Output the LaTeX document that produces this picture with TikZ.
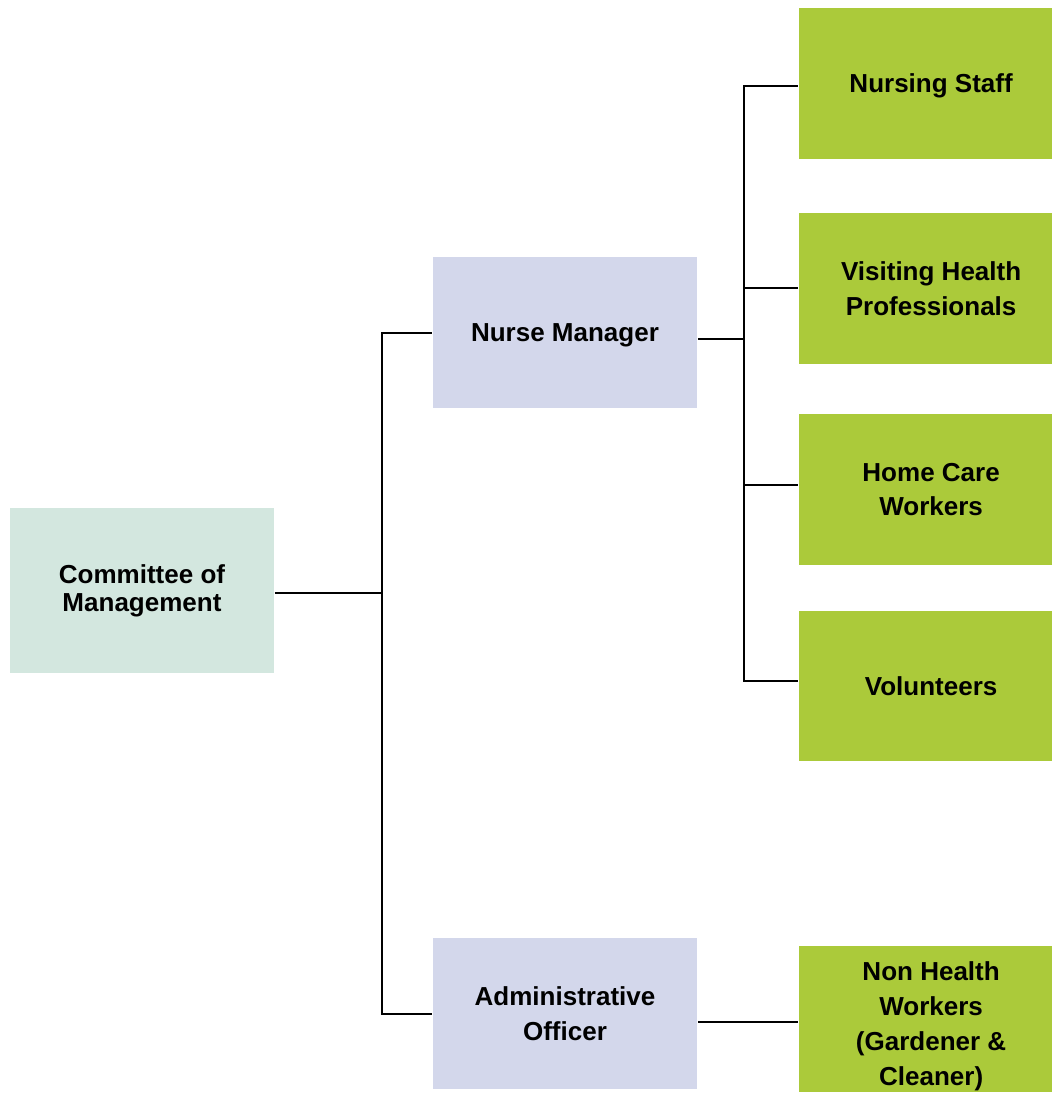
\documentclass[tikz,border=0pt]{standalone}
\usepackage{fontspec}
\setmainfont{Liberation Sans}
\usepackage{tikz}

\definecolor{mgmtgreen}{HTML}{D3E7DF}
\definecolor{lavender}{HTML}{D3D7EB}
\definecolor{staffgreen}{HTML}{ABCA3A}

% small left pad for the text in the green boxes
\newcommand{\lpad}{\hspace*{8pt}}

\begin{document}
\begin{tikzpicture}[x=0.025cm, y=-0.025cm, line width=1.2pt,
    box/.style={inner sep=0pt, align=center, font=\fontsize{18.5}{24.8}\selectfont\bfseries},
    topbox/.style={box, fill=mgmtgreen, minimum width=264*0.025cm, minimum height=165*0.025cm},
    midbox/.style={box, fill=lavender, minimum width=264*0.025cm, minimum height=151*0.025cm},
    staffbox/.style={box, fill=staffgreen, minimum width=253*0.025cm, minimum height=151*0.025cm}]
    \useasboundingbox (0, 0) rectangle (1052, 1093);

    % Committee
    \node[topbox, font=\fontsize{18.5}{19.8}\selectfont\bfseries] (com) at (142, 590.5) {Committee of\\Management};

    % Managers
    \node[midbox, text depth=0pt] (nm) at (565, 332.5) {Nurse Manager};
    \node[midbox] (ao) at (565, 1013.5) {Administrative\\Officer};

    % Staff
    \node[staffbox, text depth=0pt] (ns) at (925.5, 83.5) {\lpad Nursing Staff};
    \node[staffbox] (vhp) at (925.5, 288.5) {\lpad Visiting Health\\\lpad Professionals};
    \node[staffbox] (hcw) at (925.5, 489.5) {\lpad Home Care\\\lpad Workers};
    \node[staffbox, minimum height=150*0.025cm] (vol) at (925.5, 686) {\lpad Volunteers};
    \node[staffbox, minimum height=146*0.025cm] (nhw) at (925.5, 1019)
        {\rule{0pt}{23.5pt}\lpad Non Health\\\lpad Workers\\\lpad (Gardener \&\\\lpad Cleaner)};

    % Lines
    \draw ([yshift=-2.5*0.025cm]com.east) -- ++(107, 0) coordinate (trunk) |- ([yshift=-0.5*0.025cm]nm.west);
    \draw (trunk) |- ([yshift=-0.5*0.025cm]ao.west);
    \draw ([yshift=-6.5*0.025cm]nm.east) -- ++(46, 0) coordinate (branch) |- ([yshift=-2.5*0.025cm]ns.west);
    \draw (branch) |- ([yshift=0.5*0.025cm]vhp.west);
    \draw (branch) |- ([yshift=4.5*0.025cm]hcw.west);
    \draw (branch) |- ([yshift=5*0.025cm]vol.west);
    \draw ([yshift=-8.5*0.025cm]ao.east) -- ([yshift=-8.5*0.025cm]ao.east -| nhw.west);
\end{tikzpicture}
\end{document}
